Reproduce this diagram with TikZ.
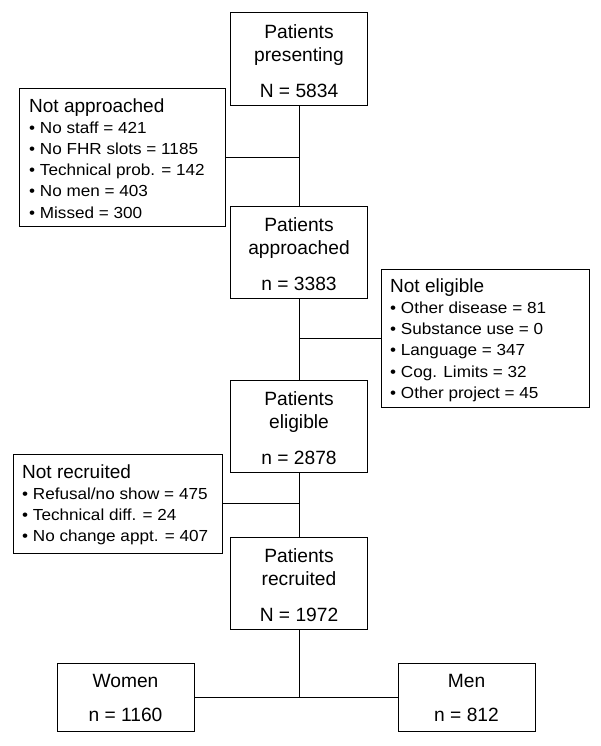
\documentclass[tikz,border=0pt]{standalone}
\usepackage{fontspec}
\setmainfont{Liberation Sans}
\newfontfamily\bulletfont[FakeStretch=1.07]{Liberation Sans}
\newcommand{\bit}{\textbullet\ }
\newcommand{\sidetitle}[1]{{\rmfamily\fontsize{19}{21.2}\selectfont #1}}
\begin{document}
\begin{tikzpicture}[x=1pt,y=-1pt,
  box/.style={draw, line width=1pt, inner sep=0pt, minimum width=137pt, minimum height=92pt},
  outbox/.style={draw, line width=1pt, inner sep=0pt},
  maintext/.style={inner sep=0pt, align=center, font=\fontsize{19.2}{23}\selectfont, anchor=north},
  sidetext/.style={inner sep=0pt, align=left, font=\bulletfont\fontsize{16}{21.2}\selectfont, anchor=north west},
  link/.style={line width=1pt}]
\useasboundingbox[fill=white] (0,0) rectangle (600,746);

% main boxes
\node[box, minimum height=93pt] (pres) at (299,59.5) {};
\node[box] (appr) at (299,252) {};
\node[box] (elig) at (299,426) {};
\node[box] (recr) at (299,583) {};
\node[box, minimum height=68pt] (women) at (125.5,697) {};
\node[box, minimum height=68pt] (men) at (466.5,697) {};

% side boxes
\node[outbox, minimum width=206pt, minimum height=138.5pt] (notapp) at (122,157.5) {};
\node[outbox, minimum width=208pt, minimum height=138pt] (notelig) at (485,338) {};
\node[outbox, minimum width=209pt, minimum height=99pt] (notrec) at (117.5,503.5) {};

% main texts
\node[maintext] (prest) at (299,24.2) {Patients\\presenting\\[13.5pt]N = 5834};
\node[maintext] (apprt) at (299,217) {Patients\\approached\\[13.5pt]n = 3383};
\node[maintext] (eligt) at (299,391) {Patients\\eligible\\[13.5pt]n = 2878};
\node[maintext] (recrt) at (299,548) {Patients\\recruited\\[13.5pt]N = 1972};
\node[maintext] (woment) at (125.5,673.8) {Women\\[11.4pt]n = 1160};
\node[maintext] (ment) at (466.5,673.8) {Men\\[11.4pt]n = 812};

% side texts
\node[sidetext] (notappt) at (29,98.1) {\sidetitle{Not approached}\\
  \bit No staff = 421\\
  \bit No FHR slots = 1185\\
  \bit Technical prob. = 142\\
  \bit No men = 403\\
  \bit Missed = 300};
\node[sidetext] (noteligt) at (390,278.4) {\sidetitle{Not eligible}\\
  \bit Other disease = 81\\
  \bit Substance use = 0\\
  \bit Language = 347\\
  \bit Cog. Limits = 32\\
  \bit Other project = 45};
\node[sidetext] (notrect) at (22,464.4) {\sidetitle{Not recruited}\\
  \bit Refusal/no show = 475\\
  \bit Technical diff. = 24\\
  \bit No change appt. = 407};

% connectors
\draw[link] (pres) -- (appr);
\draw[link] (appr) -- (elig);
\draw[link] (elig) -- (recr);
\coordinate (j1) at (notapp.east -| pres.south);
\coordinate (j2) at (notelig.west -| appr.south);
\coordinate (j3) at (notrec.east -| elig.south);
\coordinate (j4) at (recr.south |- women.east);
\draw[link] (notapp.east) -- (j1);
\draw[link] (notelig.west) -- (j2);
\draw[link] (notrec.east) -- (j3);
\draw[link] (recr.south) -- (j4);
\draw[link] (women.east) -- (men.west);
\end{tikzpicture}
\end{document}
